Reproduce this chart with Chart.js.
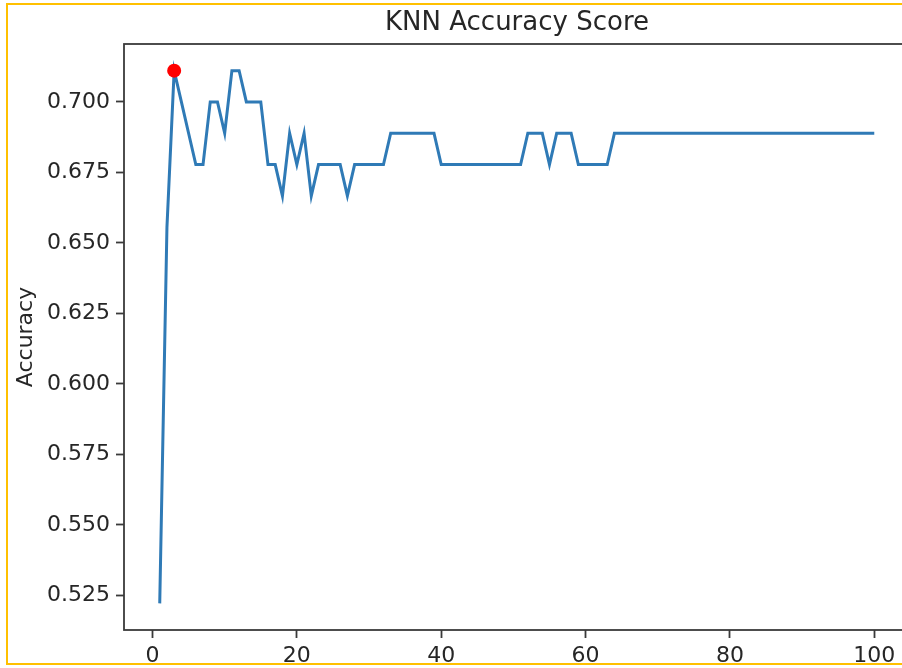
<!DOCTYPE html>
<html>
<head>
<meta charset="utf-8">
<title>KNN Accuracy Score</title>
<script src="https://cdn.jsdelivr.net/npm/chart.js@4.4.1/dist/chart.umd.min.js"></script>
<style>
  html, body { margin: 0; padding: 0; background: #ffffff; overflow: hidden; }
  #wrap { position: relative; width: 902px; height: 668px; overflow: hidden; }
  #chart { position: absolute; left: 0; top: 0; }
  #frame {
    position: absolute; left: 6px; top: 3px;
    width: 1000px; height: 658px;
    border: 2.5px solid #ffc000;
    pointer-events: none;
  }
</style>
</head>
<body>
<div id="wrap">
  <canvas id="chart" width="917" height="668"></canvas>
  <div id="frame"></div>
</div>
<script>
// Number of neighbours tried
const kValues = [
  1, 2, 3, 4, 5, 6, 7, 8, 9, 10,
  11, 12, 13, 14, 15, 16, 17, 18, 19, 20,
  21, 22, 23, 24, 25, 26, 27, 28, 29, 30,
  31, 32, 33, 34, 35, 36, 37, 38, 39, 40,
  41, 42, 43, 44, 45, 46, 47, 48, 49, 50,
  51, 52, 53, 54, 55, 56, 57, 58, 59, 60,
  61, 62, 63, 64, 65, 66, 67, 68, 69, 70,
  71, 72, 73, 74, 75, 76, 77, 78, 79, 80,
  81, 82, 83, 84, 85, 86, 87, 88, 89, 90,
  91, 92, 93, 94, 95, 96, 97, 98, 99, 100
];

// Test accuracy for each k
const accuracy = [
  0.5222, 0.6556, 0.7111, 0.7000, 0.6889, 0.6778, 0.6778, 0.7000, 0.7000, 0.6889,
  0.7111, 0.7111, 0.7000, 0.7000, 0.7000, 0.6778, 0.6778, 0.6667, 0.6889, 0.6778,
  0.6889, 0.6667, 0.6778, 0.6778, 0.6778, 0.6778, 0.6667, 0.6778, 0.6778, 0.6778,
  0.6778, 0.6778, 0.6889, 0.6889, 0.6889, 0.6889, 0.6889, 0.6889, 0.6889, 0.6778,
  0.6778, 0.6778, 0.6778, 0.6778, 0.6778, 0.6778, 0.6778, 0.6778, 0.6778, 0.6778,
  0.6778, 0.6889, 0.6889, 0.6889, 0.6778, 0.6889, 0.6889, 0.6889, 0.6778, 0.6778,
  0.6778, 0.6778, 0.6778, 0.6889, 0.6889, 0.6889, 0.6889, 0.6889, 0.6889, 0.6889,
  0.6889, 0.6889, 0.6889, 0.6889, 0.6889, 0.6889, 0.6889, 0.6889, 0.6889, 0.6889,
  0.6889, 0.6889, 0.6889, 0.6889, 0.6889, 0.6889, 0.6889, 0.6889, 0.6889, 0.6889,
  0.6889, 0.6889, 0.6889, 0.6889, 0.6889, 0.6889, 0.6889, 0.6889, 0.6889, 0.6889
];

// Best k and its score (highlighted marker)
const bestK = [3];
const bestAccuracy = [0.7111];

// Axis ticks
const xTicks = [0, 20, 40, 60, 80, 100];
const yTicks = [0.525, 0.550, 0.575, 0.600, 0.625, 0.650, 0.675, 0.700];

const lineData = kValues.map((k, i) => ({ x: k, y: accuracy[i] }));
const bestData = bestK.map((k, i) => ({ x: k, y: bestAccuracy[i] }));

// Axis limits with a 5% margin around the data
const xSpan = Math.max(...kValues) - Math.min(...kValues);
const ySpan = Math.max(...accuracy) - Math.min(...accuracy);
const xMin = Math.min(...kValues) - 0.05 * xSpan;
const xMax = Math.max(...kValues) + 0.05 * xSpan;
const yMin = Math.min(...accuracy) - 0.05 * ySpan;
const yMax = Math.max(...accuracy) + 0.05 * ySpan;

const FONT = 'DejaVu Sans';
const INK = '#262626';
const SPINE = '#3a3a3a';

// Box around the plotting area
const axesFrame = {
  id: 'axesFrame',
  afterDatasetsDraw(chart) {
    const { ctx, chartArea: a } = chart;
    ctx.save();
    ctx.strokeStyle = SPINE;
    ctx.lineWidth = 1.8;
    ctx.strokeRect(a.left, a.top, a.right - a.left, a.bottom - a.top);
    ctx.restore();
  }
};

new Chart(document.getElementById('chart'), {
  type: 'line',
  data: {
    datasets: [
      {
        type: 'scatter',
        data: bestData,
        backgroundColor: '#ff0000',
        borderColor: '#ff0000',
        pointRadius: 7,
        pointHoverRadius: 7,
        borderWidth: 0,
        order: 0
      },
      {
        data: lineData,
        borderColor: '#2f7ab6',
        borderWidth: 3,
        pointRadius: 0,
        tension: 0,
        fill: false,
        order: 1
      }
    ]
  },
  options: {
    responsive: false,
    animation: false,
    layout: { padding: { left: 0, right: 3, top: 0, bottom: 0 } },
    plugins: {
      legend: { display: false },
      tooltip: { enabled: false },
      title: {
        display: true,
        text: 'KNN Accuracy Score',
        fullSize: false,
        color: INK,
        font: { family: FONT, size: 26, weight: 'normal' },
        padding: { top: 8, bottom: 4.8 }
      }
    },
    scales: {
      x: {
        type: 'linear',
        min: xMin,
        max: xMax,
        afterBuildTicks(scale) { scale.ticks = xTicks.map(v => ({ value: v })); },
        afterFit(scale) { scale.height = 38; },
        ticks: {
          color: INK,
          font: { family: FONT, size: 22 },
          padding: 5,
          maxRotation: 0,
          callback: v => String(v)
        },
        grid: {
          drawOnChartArea: false,
          drawTicks: true,
          tickLength: 8,
          tickColor: SPINE,
          tickWidth: 1.8
        },
        border: { display: false }
      },
      y: {
        type: 'linear',
        min: yMin,
        max: yMax,
        afterBuildTicks(scale) { scale.ticks = yTicks.map(v => ({ value: v })); },
        afterFit(scale) { scale.width = 124; },
        ticks: {
          color: INK,
          font: { family: FONT, size: 22 },
          padding: 6,
          callback: v => Number(v).toFixed(3)
        },
        grid: {
          drawOnChartArea: false,
          drawTicks: true,
          tickLength: 8,
          tickColor: SPINE,
          tickWidth: 1.8
        },
        border: { display: false },
        title: {
          display: true,
          text: 'Accuracy',
          color: INK,
          font: { family: FONT, size: 22 },
          padding: { top: 13, bottom: 0 }
        }
      }
    }
  },
  plugins: [axesFrame]
});
</script>
</body>
</html>
